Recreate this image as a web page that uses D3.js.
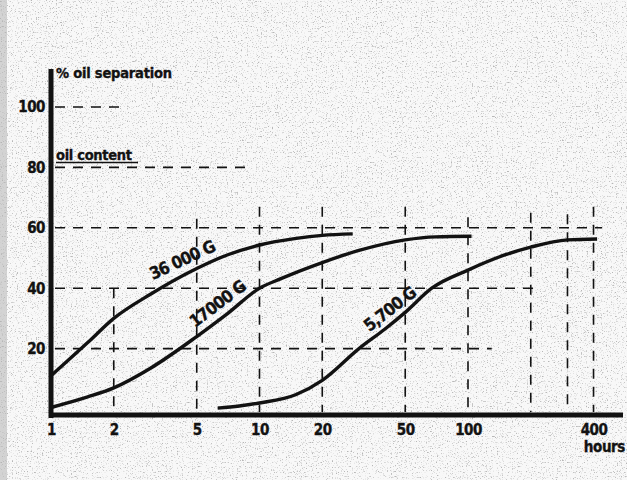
<!DOCTYPE html>
<html><head><meta charset="utf-8">
<script src="https://cdn.jsdelivr.net/npm/d3@7"></script>
<style>html,body{margin:0;padding:0;background:#f7f7f7;}svg{display:block;}</style>
</head><body><svg id="c" width="627" height="480"></svg>
<script>
// ---- data ----
const xTicks = [1, 2, 5, 10, 20, 50, 100, 400];
const yTicks = [20, 40, 60, 80, 100];
const yLabelsText = ["20", "40", "60", "80", "100"];
const curveNames = ["36 000 G", "17000 G", "5,700 G"];
const hours36000 = [1, 1.5, 2, 3, 5, 7, 10, 15, 20, 28];
const sep36000   = [11, 22, 30, 38, 46.5, 51, 54.3, 56.5, 57.5, 58];
const hours17000 = [1, 1.5, 2, 3, 5, 7, 10, 12.5, 20, 30, 50, 70, 104];
const sep17000   = [0.5, 4, 7, 13.5, 24, 31.5, 40, 43, 48.5, 52.5, 56, 57, 57.2];
const hours5700  = [6.3, 8, 10, 15, 20, 30, 40, 50, 67, 100, 150, 200, 300, 416];
const sep5700    = [0.3, 1, 2, 4.8, 9.5, 20, 26.5, 32, 40, 46, 51, 53.6, 56, 56.3];
// curve label anchors (hours, % value on curve, angle)
const labelHours = [4.5, 6.9, 45.7];
const labelVals  = [45.8, 31.2, 30];
const labelAngles = [-25, -37, -38];
const labelLift = [6, 8, 6];
// dashed reference lines
const hGridVals = [100, 80, 60, 40, 20];
const hGridEnds = [2.2, 8.6, 440, 205, 130];
const vGridVals = [2, 5, 10, 20, 50, 100, 200, 300, 400];
const vGridTops = [40, 63, 67, 67, 67, 63.5, 65, 64.5, 67];

const svg = d3.select("#c");
const defs = svg.append("defs");
const f = defs.append("filter").attr("id","grain").attr("x",0).attr("y",0).attr("width","100%").attr("height","100%");
f.append("feTurbulence").attr("type","fractalNoise").attr("baseFrequency","0.8").attr("numOctaves",2).attr("seed",11).attr("result","n");
f.append("feColorMatrix").attr("type","matrix").attr("values","0 0 0 0 0.35  0 0 0 0 0.35  0 0 0 0 0.35  4.5 0 0 0 -2.6");

svg.append("rect").attr("width",627).attr("height",480).attr("fill","#f8f8f8");
svg.append("rect").attr("width",627).attr("height",480).attr("filter","url(#grain)").attr("opacity",0.75);
svg.append("rect").attr("x",0).attr("y",0).attr("width",7).attr("height",480).attr("fill","#b5b5b5").attr("opacity",0.55);

const x = d3.scaleLog().domain([1, 1000]).range([51, 51 + 208.5*3]);
const y = d3.scaleLinear().domain([0, 100]).range([409, 107]);
const ink = "#121212";
const font = "'DejaVu Sans Condensed', 'DejaVu Sans', sans-serif";
function styleText(sel, size, ls){
  sel.attr("font-family",font).attr("font-weight","bold").attr("font-stretch","condensed")
     .attr("font-size",size).attr("fill",ink).attr("stroke",ink).attr("stroke-width",0.35)
     .attr("letter-spacing",ls);
}

// grid
const g = svg.append("g").attr("stroke", ink).attr("stroke-width",1.6).attr("stroke-dasharray","10,8").attr("fill","none");
hGridVals.forEach((v,i)=>{
  g.append("line").attr("x1",x(1)+4).attr("x2",x(hGridEnds[i])).attr("y1",y(v)).attr("y2",y(v));
});
vGridVals.forEach((v,i)=>{
  g.append("line").attr("x1",x(v)).attr("x2",x(v)).attr("y1",y(vGridTops[i])).attr("y2",y(0)+3);
});

// axes
const xAxis = d3.axisBottom(x).tickValues(xTicks).tickFormat(d3.format("d")).tickSize(0).tickPadding(9);
const ax = svg.append("g").attr("transform",`translate(0,${415})`).call(xAxis);
ax.select(".domain").remove();
styleText(ax.selectAll("text"), 15, "-0.5");
const yAxis = d3.axisLeft(y).tickValues(yTicks).tickFormat((d,i)=>yLabelsText[i]).tickSize(0).tickPadding(4);
const ay = svg.append("g").attr("transform",`translate(${49},0)`).call(yAxis);
ay.select(".domain").remove();
styleText(ay.selectAll("text"), 15, "-0.5");

svg.append("line").attr("x1",51).attr("x2",51).attr("y1",69).attr("y2",418).attr("stroke",ink).attr("stroke-width",5);
svg.append("line").attr("x1",49).attr("x2",623).attr("y1",415).attr("y2",415).attr("stroke",ink).attr("stroke-width",5);

// curves
const line = d3.line().x(d=>x(d[0])).y(d=>y(d[1])).curve(d3.curveMonotoneX);
[[hours36000,sep36000],[hours17000,sep17000],[hours5700,sep5700]].forEach(([hx,sy])=>{
  svg.append("path").attr("d", line(hx.map((h,i)=>[h, sy[i]]))).attr("fill","none").attr("stroke",ink).attr("stroke-width",3.4);
});

// curve labels, sitting just above their curves
curveNames.forEach((name,i)=>{
  const t = svg.append("text").attr("transform",`translate(${x(labelHours[i])},${y(labelVals[i])}) rotate(${labelAngles[i]})`)
    .attr("text-anchor","middle").attr("dy",-labelLift[i]).text(name);
  styleText(t, 17, "-0.8");
});

// titles
styleText(svg.append("text").attr("x",56).attr("y",78).text("% oil separation"), 14.5, "-0.2");
styleText(svg.append("text").attr("x",56).attr("y",160).text("oil content"), 14.5, "-0.3");
svg.append("line").attr("x1",56).attr("x2",138).attr("y1",162.5).attr("y2",162.5).attr("stroke",ink).attr("stroke-width",1.5);
styleText(svg.append("text").attr("x",625).attr("y",452).attr("text-anchor","end").text("hours"), 15, "-0.4");
</script></body></html>
